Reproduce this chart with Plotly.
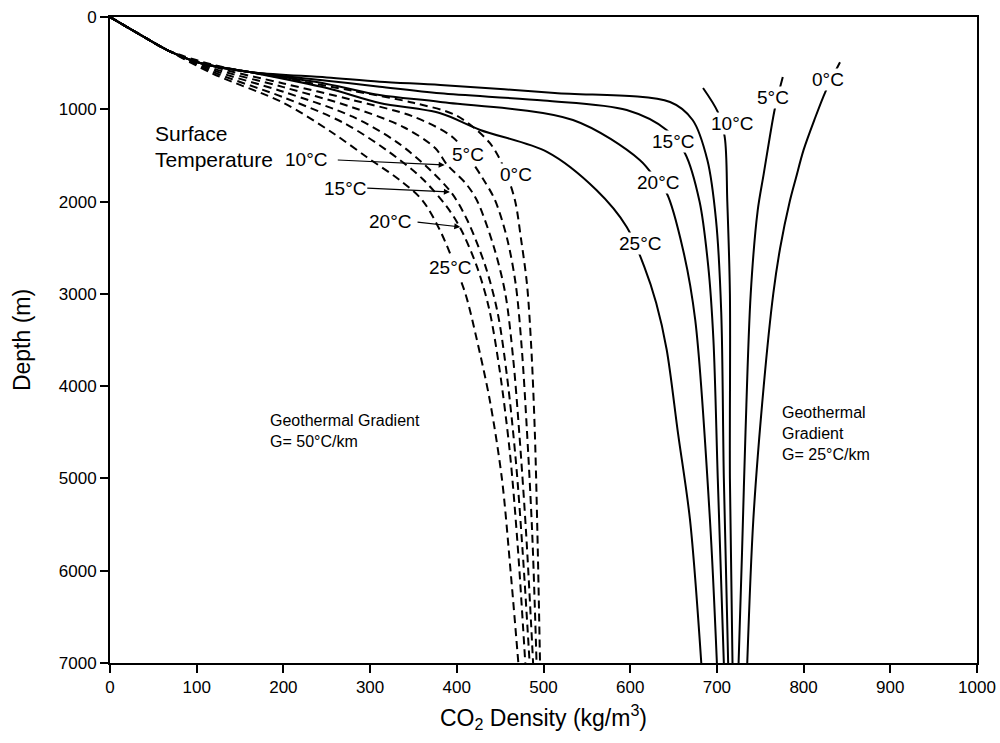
import plotly.graph_objects as go

# ---- Geothermal gradient 25 C/km (solid) : density (kg/m3), depth (m)
s25_rho = [0, 40, 66, 104, 161, 250, 311, 381, 427, 504, 561, 596, 616, 630, 642, 655, 669, 682]
s25_z   = [0, 220, 358, 498, 596, 770, 932, 1043, 1224, 1462, 1875, 2275, 2700, 3100, 3600, 4500, 5450, 7000]
s20_rho = [0, 40, 66, 104, 161, 250, 311, 381, 534, 611, 632, 642, 661, 675, 692, 700]
s20_z   = [0, 220, 358, 498, 596, 725, 845, 921, 1116, 1549, 1788, 1907, 2524, 3283, 5450, 7000]
s15_rho = [0, 40, 66, 104, 161, 250, 311, 381, 500, 596, 642, 663, 680, 690, 696, 701, 708]
s15_z   = [0, 220, 358, 498, 596, 690, 755, 827, 905, 1008, 1224, 1473, 2000, 2700, 3500, 5000, 7000]
sX_rho  = [0, 40, 66, 104, 161, 250, 311, 381, 513, 646, 672, 689, 699, 705, 708, 713]
sX_z    = [0, 220, 358, 498, 596, 655, 701, 737, 823, 921, 1116, 1550, 2200, 3200, 5000, 7000]
s10_rho = [684, 701, 709, 712, 715, 715, 718]
s10_z   = [769, 1029, 1300, 2000, 3000, 5000, 7000]
s5_rho  = [776, 767, 761, 754, 747, 739, 733, 729, 725]
s5_z    = [650, 986, 1300, 1700, 2100, 3000, 4500, 5800, 7000]
s0_rho  = [842, 836, 825, 813, 800, 791, 784, 773, 765, 754, 742, 735]
s0_z    = [490, 600, 813, 1100, 1440, 1750, 2000, 2500, 3000, 4000, 5450, 7000]

# ---- Geothermal gradient 50 C/km (dashed)
d0_rho  = [0, 40, 66, 120, 200, 280, 350, 400, 438, 455, 467, 474, 481, 486, 490, 493, 496]
d0_z    = [0, 220, 358, 520, 660, 800, 930, 1070, 1365, 1650, 1983, 2400, 2900, 3600, 4500, 5600, 7000]
d5_rho  = [0, 40, 66, 120, 200, 280, 350, 395, 412, 430, 444, 458, 468, 475, 481, 487, 492]
d5_z    = [0, 220, 358, 540, 720, 900, 1080, 1300, 1495, 1750, 1983, 2400, 2900, 3600, 4500, 5600, 7000]
d10_rho = [0, 40, 66, 120, 200, 280, 340, 375, 389, 410, 423, 443, 456, 465, 472, 480, 488]
d10_z   = [0, 220, 358, 560, 760, 980, 1200, 1420, 1603, 1800, 1983, 2500, 3000, 3700, 4500, 5600, 7000]
d15_rho = [0, 40, 66, 120, 200, 280, 330, 365, 394, 412, 433, 447, 458, 468, 476, 484]
d15_z   = [0, 220, 358, 580, 810, 1080, 1350, 1620, 1907, 2200, 2700, 3200, 3900, 4800, 5800, 7000]
d20_rho = [0, 40, 66, 120, 200, 270, 320, 360, 388, 404, 423, 437, 449, 461, 470, 479]
d20_z   = [0, 220, 358, 600, 870, 1150, 1450, 1750, 2050, 2286, 2700, 3150, 3800, 4700, 5700, 7000]
d25_rho = [0, 40, 66, 120, 200, 257, 296, 334, 360, 380, 396, 410, 422, 438, 452, 462, 471]
d25_z   = [0, 220, 358, 620, 930, 1257, 1517, 1766, 1983, 2300, 2650, 3000, 3450, 4150, 5000, 6000, 7000]

solid = [("25°C", s25_rho, s25_z), ("20°C", s20_rho, s20_z), ("15°C", s15_rho, s15_z),
         ("", sX_rho, sX_z), ("10°C", s10_rho, s10_z), ("5°C", s5_rho, s5_z), ("0°C", s0_rho, s0_z)]
dashed = [("0°C", d0_rho, d0_z), ("5°C", d5_rho, d5_z), ("10°C", d10_rho, d10_z),
          ("15°C", d15_rho, d15_z), ("20°C", d20_rho, d20_z), ("25°C", d25_rho, d25_z)]

# label texts and positions (density, depth)
solid_labels = [("25°C", 611, 2449), ("20°C", 632, 1788), ("15°C", 649, 1354),
                ("10°C", 717, 1159), ("5°C", 765, 867), ("0°C", 828, 682)]
dashed_labels = [("25°C", 392, 2719), ("5°C", 413, 1495), ("0°C", 468, 1712)]
arrow_labels = [("10°C", 226, 1549, 261, 1549, 386, 1603),
                ("15°C", 271, 1853, 295, 1853, 392, 1896),
                ("20°C", 323, 2221, 353, 2221, 404, 2275)]

FONT = "Liberation Sans, Arial, sans-serif"
LBL = 19
fig = go.Figure()
for name, r, z in solid:
    fig.add_trace(go.Scatter(x=r, y=z, mode="lines", name=("G=25 " + name) if name else "G=25",
                             line=dict(color="black", width=2, shape="spline", smoothing=0.9),
                             showlegend=False))
for name, r, z in dashed:
    fig.add_trace(go.Scatter(x=r, y=z, mode="lines", name="G=50 " + name,
                             line=dict(color="black", width=2, dash="8px,5px", shape="spline", smoothing=0.9),
                             showlegend=False))

ann = []
for t, x, y in solid_labels + dashed_labels:
    ann.append(dict(x=x, y=y, text=t, showarrow=False, bgcolor="white", borderpad=0,
                    font=dict(size=LBL, color="black", family=FONT)))
for t, tx, ty, ax, ay, x, y in arrow_labels:
    ann.append(dict(x=tx, y=ty, text=t, showarrow=False, font=dict(size=LBL, color="black", family=FONT)))
    ann.append(dict(x=x, y=y, ax=ax, ay=ay, axref="x", ayref="y", text="", showarrow=True,
                    arrowhead=2, arrowsize=1, arrowwidth=1.2, arrowcolor="black"))
ann.append(dict(x=49.6, y=1257, text="Surface", xanchor="left", showarrow=False,
                font=dict(size=21, color="black", family=FONT)))
ann.append(dict(x=49.6, y=1549, text="Temperature", xanchor="left", showarrow=False,
                font=dict(size=21, color="black", family=FONT)))
ann.append(dict(x=182, y=4485, text="Geothermal Gradient<br>G= 50°C/km", xanchor="left", align="left",
                showarrow=False, font=dict(size=16, color="black", family=FONT)))
ann.append(dict(x=773, y=4510, text="Geothermal<br>Gradient<br>G= 25°C/km", xanchor="left", align="left",
                showarrow=False, font=dict(size=16, color="black", family=FONT)))

fig.update_layout(
    width=1000, height=743, margin=dict(l=110, r=23, t=17, b=80, autoexpand=False),
    paper_bgcolor="white", plot_bgcolor="white",
    font=dict(family=FONT, color="black", size=16),
    annotations=ann,
    xaxis=dict(range=[0, 1000], dtick=100, tick0=0, showgrid=False, zeroline=False, automargin=False,
               showline=True, linecolor="black", linewidth=2, mirror=True,
               ticks="outside", ticklen=8, tickwidth=1.5, tickcolor="black",
               tickfont=dict(size=17),
               title=dict(text="CO<sub>2</sub> Density (kg/m<sup>3</sup>)", font=dict(size=23), standoff=13)),
    yaxis=dict(range=[7000, 0], dtick=1000, tick0=0, showgrid=False, zeroline=False, automargin=False,
               showline=True, linecolor="black", linewidth=2, mirror=True,
               ticks="outside", ticklen=8, tickwidth=1.5, tickcolor="black",
               tickfont=dict(size=17),
               title=dict(text="Depth (m)", font=dict(size=23), standoff=22)),
)
fig.write_html("out.html")
